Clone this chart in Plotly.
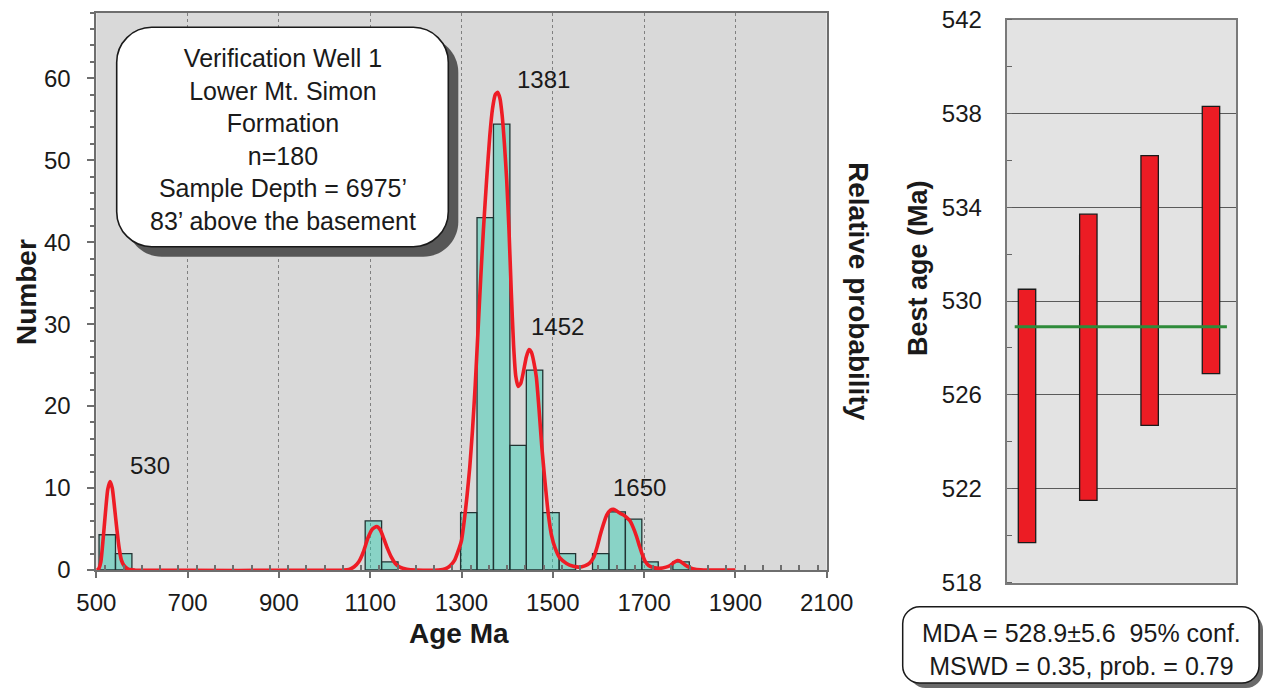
import plotly.graph_objects as go

W, H = 1264, 690

# ---------------- data ----------------
# histogram (left panel)
bin_centers = [524, 560, 1107, 1143, 1316, 1352, 1388, 1424, 1460, 1496, 1532,
               1605, 1641, 1677, 1713, 1781]
bin_counts = [4.3, 2.0, 6.0, 1.0, 7.0, 43.0, 54.4, 15.2, 24.4, 7.0, 2.0,
              2.0, 7.1, 6.2, 1.0, 1.0]

# relative probability curve (scaled to Number axis)
curve_age = [500, 505, 510, 515, 520, 525, 530, 535, 540, 545, 550, 555, 560, 570, 585,
             1040, 1055, 1065, 1075, 1085, 1095, 1105, 1114, 1122, 1130, 1138, 1146, 1155, 1165, 1180, 1200,
             1250, 1265, 1275, 1285, 1292, 1300, 1306, 1312, 1318, 1324, 1330, 1336, 1342, 1348, 1355,
             1362, 1368, 1374, 1379, 1384, 1389, 1394, 1399, 1404, 1409, 1414, 1419, 1424, 1430, 1436,
             1442, 1448, 1453, 1458, 1464, 1470, 1476, 1482, 1490, 1497, 1505, 1515, 1530, 1545, 1558,
             1570, 1580, 1590, 1597, 1604, 1611, 1618, 1626, 1633, 1640, 1648, 1655, 1662, 1669, 1676,
             1684, 1690, 1696, 1703, 1710, 1720, 1735, 1748, 1757, 1765, 1773, 1781, 1790, 1800, 1812,
             1830, 1900]
curve_val = [0.0, 0.15, 1.0, 3.8, 7.0, 9.8, 10.8, 10.0, 7.6, 5.0, 2.7, 1.2, 0.6, 0.1, 0.0,
             0.0, 0.1, 0.4, 1.0, 2.2, 3.9, 5.0, 5.3, 4.9, 3.8, 2.6, 1.6, 0.8, 0.35, 0.1, 0.0,
             0.0, 0.15, 0.5, 1.2, 2.2, 3.6, 6.0, 9.0, 12.5, 17.0, 22.5, 29.0, 35.5, 41.5, 47.6,
             53.0, 56.3, 58.0, 58.3, 57.6, 55.5, 52.0, 47.6, 41.5, 34.0, 27.5, 23.6, 22.4, 22.8, 24.3,
             26.0, 26.9, 26.6, 25.5, 23.5, 19.5, 15.0, 11.3, 6.9, 4.3, 2.7, 1.5, 0.8, 0.45, 0.35,
             0.5, 0.8, 1.6, 2.8, 4.3, 5.6, 6.7, 7.3, 7.4, 7.2, 6.9, 6.7, 6.4, 6.0, 5.2,
             4.0, 2.9, 1.9, 1.0, 0.55, 0.3, 0.2, 0.35, 0.55, 0.9, 1.15, 1.0, 0.6, 0.3, 0.08,
             0.0, 0.0]

peak_labels = ["530", "1381", "1452", "1650"]
peak_label_x = [617, 1479, 1510, 1689]
peak_label_y = [12.8, 59.9, 29.7, 10.1]

info_lines = ["Verification Well 1", "Lower Mt. Simon", "Formation", "n=180",
              "Sample Depth = 6975\u2019", "83\u2019 above the basement"]

# youngest grains (right panel), error-bar boxes
grain_idx = [1, 2, 3, 4]
grain_low = [519.7, 521.5, 524.7, 526.9]
grain_high = [530.5, 533.7, 536.2, 538.3]
mda, mda_err, mswd, prob = 528.9, 5.6, 0.35, 0.79

x_ticks = [500, 700, 900, 1100, 1300, 1500, 1700, 1900, 2100]
y_ticks = [0, 10, 20, 30, 40, 50, 60]
y2_ticks = [518, 522, 526, 530, 534, 538, 542]

# ---------------- figure ----------------
FONT = "Liberation Sans, Arial, sans-serif"
TXT = "#1a1a1a"

fig = go.Figure()

fig.add_trace(go.Scatter(x=curve_age, y=curve_val, mode="lines",
                         line=dict(color="#ee1c25", width=3.6, shape="spline", smoothing=0.5),
                         xaxis="x", yaxis="y", hoverinfo="skip", showlegend=False))
fig.add_trace(go.Bar(x=bin_centers, y=bin_counts, width=36,
                     marker=dict(color="rgba(40,205,175,0.45)",
                                 line=dict(color="#223333", width=1.3)),
                     xaxis="x", yaxis="y", showlegend=False))

fig.add_trace(go.Bar(x=grain_idx, y=[h - l for l, h in zip(grain_low, grain_high)],
                     base=grain_low, width=0.284,
                     marker=dict(color="#ec1c24", line=dict(color="#1a1a1a", width=1.3)),
                     xaxis="x2", yaxis="y2", showlegend=False))


def px2paper(x, y):
    return x / W, 1 - y / H


def rrect(x0, y0, x1, y1, r):
    k = 0.45
    def P(x, y):
        X, Y = px2paper(x, y)
        return f"{X:.5f},{Y:.5f}"
    d = (f"M {P(x0 + r, y0)} L {P(x1 - r, y0)} "
         f"C {P(x1 - r * k, y0)} {P(x1, y0 + r * k)} {P(x1, y0 + r)} "
         f"L {P(x1, y1 - r)} "
         f"C {P(x1, y1 - r * k)} {P(x1 - r * k, y1)} {P(x1 - r, y1)} "
         f"L {P(x0 + r, y1)} "
         f"C {P(x0 + r * k, y1)} {P(x0, y1 - r * k)} {P(x0, y1 - r)} "
         f"L {P(x0, y0 + r)} "
         f"C {P(x0, y0 + r * k)} {P(x0 + r * k, y0)} {P(x0 + r, y0)} Z")
    return d


shapes = []
# right panel background
shapes.append(dict(type="rect", xref="x2 domain", yref="y2 domain", x0=0, x1=1, y0=0, y1=1,
                   fillcolor="#e3e3e3", line=dict(width=0), layer="below"))
# info box with shadow
bx0, by0, bx1, by1 = 116.7, 27.3, 448.3, 246.7
shapes.append(dict(type="path", xref="paper", yref="paper", layer="above",
                   path=rrect(bx0 + 10, by0 + 10, bx1 + 10, by1 + 10, 35),
                   fillcolor="#575757", line=dict(width=0)))
shapes.append(dict(type="path", xref="paper", yref="paper", layer="above",
                   path=rrect(bx0, by0, bx1, by1, 35),
                   fillcolor="white", line=dict(color="#1a1a1a", width=1.6)))
# MDA box with shadow
mx0, my0, mx1, my1 = 902.7, 606.7, 1259.0, 683.0
shapes.append(dict(type="path", xref="paper", yref="paper", layer="above",
                   path=rrect(mx0 + 6, my0 + 6, mx1 + 4, my1 + 5, 17),
                   fillcolor="#6a6a6a", line=dict(width=0)))
shapes.append(dict(type="path", xref="paper", yref="paper", layer="above",
                   path=rrect(mx0, my0, mx1, my1, 17),
                   fillcolor="white", line=dict(color="#1a1a1a", width=1.5)))
# MDA line
shapes.append(dict(type="line", xref="x2", yref="y2", x0=0.80, x1=4.26, y0=mda, y1=mda,
                   line=dict(color="#2e8b3a", width=3), layer="above"))

annotations = []
for t, x, y in zip(peak_labels, peak_label_x, peak_label_y):
    annotations.append(dict(text=t, x=x, y=y, xref="x", yref="y", showarrow=False,
                            font=dict(family=FONT, size=24, color=TXT)))

ix, iy = px2paper(282.5, 139)
annotations.append(dict(text="<br>".join(info_lines), x=ix, y=iy, xref="paper", yref="paper",
                        showarrow=False, xanchor="center", yanchor="middle", align="center",
                        font=dict(family=FONT, size=25, color=TXT)))

mxp, myp = px2paper(1081, 649.5)
annotations.append(dict(text=f"MDA = {mda}\u00b1{mda_err}  95% conf.<br>MSWD = {mswd}, prob. = {prob}",
                        x=mxp, y=myp, xref="paper", yref="paper", showarrow=False,
                        xanchor="center", yanchor="middle", align="center",
                        font=dict(family=FONT, size=25, color=TXT)))


def title_ann(text, x, y, angle, size):
    X, Y = px2paper(x, y)
    return dict(text=f"<b>{text}</b>", x=X, y=Y, xref="paper", yref="paper", showarrow=False,
                textangle=angle, xanchor="center", yanchor="middle",
                font=dict(family=FONT, size=size, color=TXT))


annotations.append(title_ann("Number", 27, 292, -90, 28))
annotations.append(title_ann("Age Ma", 459, 633, 0, 28))
annotations.append(title_ann("Relative probability", 858, 292, 90, 28))
annotations.append(title_ann("Best age (Ma)", 918, 268, -90, 27))

AX = "#6e6e6e"
fig.update_layout(
    width=W, height=H, margin=dict(l=0, r=0, t=0, b=0, autoexpand=False),
    paper_bgcolor="white", plot_bgcolor="#d9d9d9",
    font=dict(family=FONT, size=24, color=TXT),
    showlegend=False, barmode="overlay",
    shapes=shapes, annotations=annotations,
    xaxis=dict(domain=[96.3 / W, 826.7 / W], range=[500, 2100], anchor="y", automargin=False,
               tickvals=x_ticks, ticks="outside", ticklen=6, tickcolor=AX, tickwidth=1.5,
               minor=dict(dtick=40, ticks="inside", ticklen=5, tickcolor=AX, showgrid=False),
               showgrid=True, gridcolor="#808080", griddash="dot", gridwidth=1,
               showline=True, linecolor=AX, linewidth=1.8, mirror=True, zeroline=False,
               ticklabelstandoff=4, tickfont=dict(size=24, color=TXT)),
    yaxis=dict(domain=[1 - 570 / H, 1 - 12.7 / H], range=[0, 68], anchor="x", automargin=False,
               tickvals=y_ticks, ticks="outside", ticklen=7, tickcolor=AX, tickwidth=1.5,
               minor=dict(dtick=2, ticks="outside", ticklen=4, tickcolor=AX, showgrid=False),
               showgrid=False, showline=True, linecolor=AX, linewidth=1.8, mirror=True,
               zeroline=False, ticklabelstandoff=12, tickfont=dict(size=24, color=TXT)),
    xaxis2=dict(domain=[1006.7 / W, 1236 / W], range=[0.669, 4.408], anchor="y2", automargin=False,
                showticklabels=False, ticks="", showgrid=False, zeroline=False,
                showline=True, linecolor="#7a7a7a", linewidth=2, mirror=True),
    yaxis2=dict(domain=[1 - 582.5 / H, 1 - 19.5 / H], range=[518, 542], anchor="x2", automargin=False,
                tickvals=y2_ticks, ticks="", showgrid=True, gridcolor="#5a5a5a", gridwidth=1.3,
                minor=dict(dtick=2, ticks="inside", ticklen=5, tickcolor="#666", showgrid=False),
                showline=True, linecolor="#7a7a7a", linewidth=2, mirror=True, zeroline=False,
                ticklabelstandoff=18, tickfont=dict(size=24, color=TXT)),
)

fig.write_html("out.html")
